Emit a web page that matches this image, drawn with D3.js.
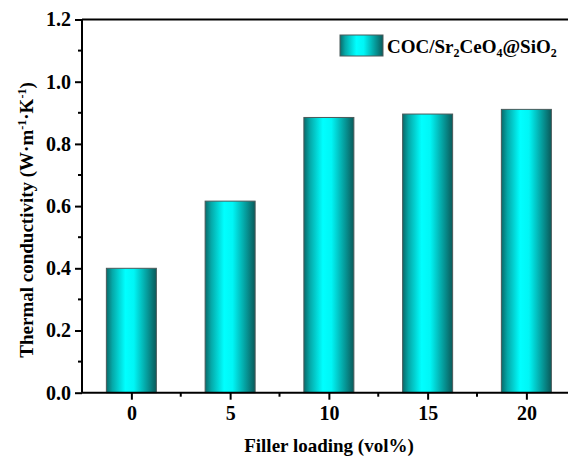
<!DOCTYPE html>
<html>
<head>
<meta charset="utf-8">
<script src="https://cdn.jsdelivr.net/npm/d3@7"></script>
<style>
  html, body { margin: 0; padding: 0; background: #fff; }
  svg { display: block; font-family: "Liberation Serif", "Times New Roman", serif; font-weight: bold; }
</style>
</head>
<body>
<svg id="chart" width="568" height="457"></svg>
<script>
// Filler loading (vol%) and measured thermal conductivity (W·m⁻¹·K⁻¹)
const loadings = [0, 5, 10, 15, 20];
const conductivity = [0.40, 0.616, 0.885, 0.896, 0.911];
const yTicks = [0.0, 0.2, 0.4, 0.6, 0.8, 1.0, 1.2];
const seriesName = "COC/Sr₂CeO₄@SiO₂";

const svg = d3.select("#chart");
const plotLeft = 82, plotTop = 19.5, plotBottom = 392.7;
const step = 98.75;
const fs = 20;

const x = d3.scaleLinear().domain([-2.5, 22.5]).range([plotLeft, plotLeft + step * 5]);
const y = d3.scaleLinear().domain([0, 1.2]).range([plotBottom, plotTop]);
const barW = 50;

// horizontal cylinder-like shading
const defs = svg.append("defs");
const grad = defs.append("linearGradient").attr("id", "barGrad")
  .attr("x1", "0%").attr("x2", "100%").attr("y1", "0%").attr("y2", "0%");
[[0, "#0a6a6a"], [0.12, "#05a8a8"], [0.38, "#00ffff"], [0.55, "#00f6f6"], [0.8, "#05a0a0"], [1, "#0a5a5a"]]
  .forEach(([o, c]) => grad.append("stop").attr("offset", o).attr("stop-color", c));

// bars
svg.append("g").selectAll("rect").data(loadings).join("rect")
  .attr("x", d => x(d) - barW / 2)
  .attr("y", (d, i) => y(conductivity[i]))
  .attr("width", barW)
  .attr("height", (d, i) => y(0) - y(conductivity[i]))
  .attr("fill", "url(#barGrad)")
  .attr("stroke", "#4a5a5a")
  .attr("stroke-width", 1);

// top frame line
svg.append("line").attr("x1", plotLeft).attr("x2", 568).attr("y1", plotTop).attr("y2", plotTop)
  .attr("stroke", "#000").attr("stroke-width", 2);

// y axis with major and minor ticks
const yAxis = d3.axisLeft(y).tickValues(yTicks).tickFormat(d3.format(".1f")).tickSize(7).tickPadding(4);
const gy = svg.append("g").attr("transform", `translate(${plotLeft},0)`).call(yAxis);
gy.select(".domain").attr("stroke-width", 2).attr("d", `M0,${plotBottom}V${plotTop}`);
gy.selectAll(".tick line").attr("stroke-width", 2);
gy.selectAll("text").attr("font-size", fs).attr("font-family", "Liberation Serif").attr("font-weight", "bold").attr("fill", "#000");
const yMinor = [0.1, 0.3, 0.5, 0.7, 0.9, 1.1];
svg.append("g").selectAll("line").data(yMinor).join("line")
  .attr("x1", plotLeft - 4).attr("x2", plotLeft).attr("y1", d => y(d)).attr("y2", d => y(d))
  .attr("stroke", "#000").attr("stroke-width", 2);

// x axis with major and minor ticks
const xAxis = d3.axisBottom(x).tickValues(loadings).tickSize(7).tickPadding(6);
const gx = svg.append("g").attr("transform", `translate(0,${plotBottom})`).call(xAxis);
gx.select(".domain").attr("stroke-width", 2).attr("d", `M${plotLeft},0H568`);
gx.selectAll(".tick line").attr("stroke-width", 2);
gx.selectAll("text").attr("font-size", fs).attr("font-family", "Liberation Serif").attr("font-weight", "bold").attr("fill", "#000");
const xMinor = [2.5, 7.5, 12.5, 17.5];
svg.append("g").selectAll("line").data(xMinor).join("line")
  .attr("x1", d => x(d)).attr("x2", d => x(d)).attr("y1", plotBottom).attr("y2", plotBottom + 4)
  .attr("stroke", "#000").attr("stroke-width", 2);

// axis titles
svg.append("text").attr("x", 329).attr("y", 452).attr("text-anchor", "middle")
  .attr("font-size", 19).text("Filler loading (vol%)");

const yt = svg.append("text").attr("transform", "translate(33,220) rotate(-90)")
  .attr("text-anchor", "middle").attr("font-size", 19);
yt.append("tspan").text("Thermal conductivity (W·m");
yt.append("tspan").attr("dy", -7).attr("font-size", 12).text("-1");
yt.append("tspan").attr("dy", 7).text("·K");
yt.append("tspan").attr("dy", -7).attr("font-size", 12).text("-1");
yt.append("tspan").attr("dy", 7).text(")");

// legend
const lg = svg.append("g");
lg.append("rect").attr("x", 340).attr("y", 35).attr("width", 43).attr("height", 21)
  .attr("fill", "url(#barGrad)").attr("stroke", "#4a5a5a").attr("stroke-width", 1);
const lt = lg.append("text").attr("x", 387).attr("y", 53).attr("font-size", 19);
lt.append("tspan").text("COC/Sr");
lt.append("tspan").attr("dy", 4).attr("font-size", 12).text("2");
lt.append("tspan").attr("dy", -4).text("CeO");
lt.append("tspan").attr("dy", 4).attr("font-size", 12).text("4");
lt.append("tspan").attr("dy", -4).text("@SiO");
lt.append("tspan").attr("dy", 4).attr("font-size", 12).text("2");
lt.append("title").text(seriesName);
</script>
</body>
</html>
